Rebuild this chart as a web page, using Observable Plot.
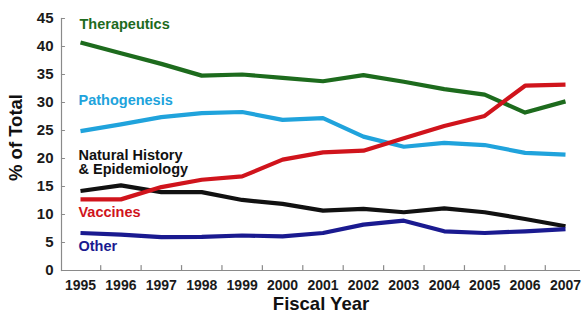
<!DOCTYPE html>
<html><head><meta charset="utf-8">
<script src="https://cdn.jsdelivr.net/npm/d3@7"></script>
<script src="https://cdn.jsdelivr.net/npm/@observablehq/plot@0.6"></script>
<style>body{margin:0;background:#fff}</style>
</head><body><div id="chart"></div>
<script>
const years = [1995, 1996, 1997, 1998, 1999, 2000, 2001, 2002, 2003, 2004, 2005, 2006, 2007];
const therapeutics = [40.7, 38.8, 36.9, 34.8, 35.0, 34.4, 33.8, 34.9, 33.7, 32.4, 31.4, 28.2, 30.2];
const pathogenesis = [24.9, 26.1, 27.4, 28.1, 28.3, 26.9, 27.2, 23.9, 22.1, 22.8, 22.4, 21.0, 20.7];
const naturalHistory = [14.2, 15.2, 14.0, 14.0, 12.6, 11.9, 10.7, 11.0, 10.4, 11.1, 10.4, 9.2, 7.9];
const vaccines = [12.7, 12.7, 14.9, 16.2, 16.8, 19.8, 21.1, 21.4, 23.6, 25.8, 27.6, 33.0, 33.2];
const other = [6.7, 6.4, 5.95, 6.0, 6.25, 6.1, 6.7, 8.2, 8.9, 7.0, 6.7, 7.0, 7.4];
const yTicks = [0, 5, 10, 15, 20, 25, 30, 35, 40, 45];
const xTickMarks = [1995.5, 1996.5, 1997.5, 1998.5, 1999.5, 2000.5, 2001.5, 2002.5, 2003.5, 2004.5, 2005.5, 2006.5];

const seriesList = [
  {name: "Therapeutics", values: therapeutics, color: "#1d6b1d"},
  {name: "Pathogenesis", values: pathogenesis, color: "#20a3dc"},
  {name: "Natural History & Epidemiology", values: naturalHistory, color: "#111111"},
  {name: "Vaccines", values: vaccines, color: "#d0141c"},
  {name: "Other", values: other, color: "#1a1a90"}
];
const rows = seriesList.flatMap(s => years.map((yr, i) => ({series: s.name, year: yr, value: s.values[i]})));

const axisColor = "#8a8a8a";
const labelFont = 14.5;
const tickShape = {draw(context, l) { context.moveTo(0, 0); context.lineTo(0, -l); }};

const chart = Plot.plot({
  width: 583,
  height: 313,
  marginLeft: 61,
  marginRight: 3,
  marginTop: 18,
  marginBottom: 43,
  style: {fontFamily: "'Liberation Sans', Arial, Helvetica, sans-serif", fontWeight: "bold", background: "#fff"},
  x: {domain: [1995, 2007], range: [80, 565]},
  y: {domain: [0, 45], range: [270, 18]},
  color: {domain: seriesList.map(s => s.name), range: seriesList.map(s => s.color)},
  marks: [
    // axis lines
    Plot.ruleY([0], {stroke: axisColor, strokeWidth: 1.2}),
    Plot.axisY({ticks: yTicks, tickSize: 0, tickPadding: 8, fontSize: 15, fill: "#1a1a1a", label: null}),
    Plot.axisX({ticks: years, tickSize: 0, tickPadding: 10, fontSize: 14, fill: "#1a1a1a", tickFormat: d => String(d), label: null}),
    Plot.vector(xTickMarks, {x: d => d, y: 0, length: 5, rotate: 0, anchor: "start", shape: tickShape, stroke: axisColor, strokeWidth: 1.2}),
    Plot.vector(yTicks, {y: d => d, frameAnchor: "left", length: 3, rotate: 90, anchor: "start", shape: tickShape, stroke: axisColor, strokeWidth: 1.2}),
    Plot.frame({anchor: "left", stroke: axisColor, strokeWidth: 1.2}),
    // lines
    Plot.line(rows, {x: "year", y: "value", z: "series", stroke: "series", strokeWidth: 4.2, strokeLinejoin: "round", strokeLinecap: "butt"}),
    // series labels
    Plot.text(["Therapeutics"], {x: 1995, y: 43.9, text: d => d, textAnchor: "start", fill: "#1d6b1d", fontSize: labelFont, dx: -1}),
    Plot.text(["Pathogenesis"], {x: 1995, y: 30.3, text: d => d, textAnchor: "start", fill: "#20a3dc", fontSize: labelFont, dx: -2}),
    Plot.text(["Natural History\n& Epidemiology"], {x: 1995, y: 19.3, text: d => d, textAnchor: "start", fill: "#111111", fontSize: labelFont, lineHeight: 1.0, dx: -2}),
    Plot.text(["Vaccines"], {x: 1995, y: 10.4, text: d => d, textAnchor: "start", fill: "#d0141c", fontSize: labelFont, dx: -2}),
    Plot.text(["Other"], {x: 1995, y: 4.4, text: d => d, textAnchor: "start", fill: "#1a1a90", fontSize: labelFont, dx: -2}),
    // axis titles
    Plot.text(["% of Total"], {frameAnchor: "left", text: d => d, rotate: -90, textAnchor: "middle", lineAnchor: "middle", dx: -45, dy: -7, fontSize: 18.5, fill: "#111"}),
    Plot.text(["Fiscal Year"], {frameAnchor: "bottom", text: d => d, textAnchor: "middle", lineAnchor: "middle", dy: 34, fontSize: 18.5, fill: "#111"})
  ]
});
document.getElementById("chart").appendChild(chart);
</script>
</body></html>
